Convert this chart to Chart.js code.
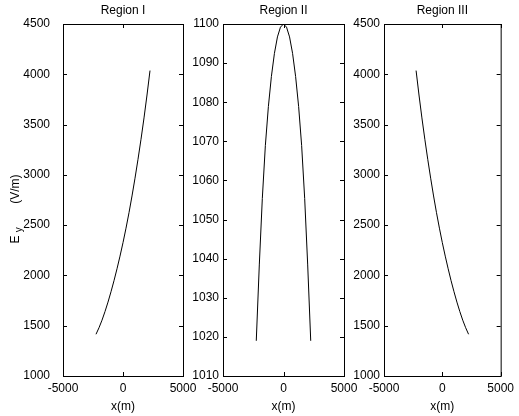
<!DOCTYPE html>
<html>
<head>
<meta charset="utf-8">
<script src="https://cdn.jsdelivr.net/npm/chart.js@4.4.0/dist/chart.umd.min.js"></script>
<style>
  html, body { margin: 0; padding: 0; background: #fff; }
  #wrap { position: relative; width: 519px; height: 416px; overflow: hidden; }
  #wrap canvas { position: absolute; left: 0; top: 0; }
  #ylabel {
    position: absolute; left: -35px; top: 202px; width: 100px; height: 14px;
    line-height: 14px; text-align: center; transform: rotate(-90deg);
    font: 12px 'Liberation Sans', Arial, sans-serif; color: #000; white-space: pre;
  }
  #ylabel sub { font-size: 10px; vertical-align: -3px; }
</style>
</head>
<body>
<div id="wrap">
  <canvas id="c1" width="519" height="416"></canvas>
  <canvas id="c2" width="519" height="416"></canvas>
  <canvas id="c3" width="519" height="416"></canvas>
  <div id="ylabel">E <sub>y</sub>       (V/m)</div>
</div>
<script>
// x positions (m) shared by the three regions
const xPositions = [-2250, -2000, -1750, -1500, -1250, -1000, -750, -500, -250, 0,
  250, 500, 750, 1000, 1250, 1500, 1750, 2000, 2250];

// Ey (V/m)
const regionIField = [1415, 1480, 1555, 1641, 1735, 1838, 1948, 2066, 2192, 2326,
  2470, 2624, 2790, 2967, 3155, 3354, 3566, 3794, 4037];
const regionIIField = [1019, 1038.4, 1055.4, 1068.9, 1078.9, 1086.6, 1092.5, 1096.7, 1099.2, 1100,
  1099.2, 1096.7, 1092.5, 1086.6, 1078.9, 1068.9, 1055.4, 1038.4, 1019];
const regionIIIField = [4037, 3794, 3566, 3354, 3155, 2967, 2790, 2624, 2470, 2326,
  2192, 2066, 1948, 1838, 1735, 1641, 1555, 1480, 1415];

const regionTitles = ['Region I', 'Region II', 'Region III'];
const xTicks = [-5000, 0, 5000];
const yRanges = [[1000, 4500, 500], [1010, 1100, 10], [1000, 4500, 500]];

const labelFont = "'Liberation Sans', Arial, sans-serif";
const tickFont = "'Liberation Sans Narrow', 'Liberation Sans', Arial, sans-serif";

// matlab style box with inward ticks
const boxTicks = {
  id: 'boxTicks',
  afterDraw(chart) {
    const { ctx, chartArea: a, scales } = chart;
    const len = 4;
    ctx.save();
    ctx.strokeStyle = '#000';
    ctx.lineWidth = 1;
    ctx.strokeRect(a.left + 0.5, a.top + 0.5, a.right - a.left, a.bottom - a.top);
    ctx.beginPath();
    scales.y.ticks.forEach(t => {
      const py = Math.round(scales.y.getPixelForValue(t.value)) + 0.5;
      ctx.moveTo(a.left, py); ctx.lineTo(a.left + len, py);
      ctx.moveTo(a.right, py); ctx.lineTo(a.right - len, py);
    });
    scales.x.ticks.forEach(t => {
      const px = Math.round(scales.x.getPixelForValue(t.value)) + 0.5;
      ctx.moveTo(px, a.bottom); ctx.lineTo(px, a.bottom - len);
      ctx.moveTo(px, a.top); ctx.lineTo(px, a.top + len);
    });
    ctx.stroke();
    ctx.restore();
  }
};

const panels = [
  { canvas: 'c1', data: regionIField, left: 63, right: 183, labelPad: 13 },
  { canvas: 'c2', data: regionIIField, left: 223, right: 344, labelPad: 4 },
  { canvas: 'c3', data: regionIIIField, left: 384, right: 506, labelPad: 4 }
];

const yAxisWidth = 50;

panels.forEach((p, i) => {
  const [yMin, yMax, yStep] = yRanges[i];
  new Chart(document.getElementById(p.canvas), {
    type: 'line',
    data: {
      datasets: [{
        data: xPositions.map((x, k) => ({ x: x, y: p.data[k] })),
        borderColor: '#000',
        borderWidth: 1,
        pointRadius: 0,
        fill: false,
        tension: 0
      }]
    },
    options: {
      responsive: false,
      animation: false,
      events: [],
      layout: { padding: { left: p.left - yAxisWidth, right: 519 - p.right, top: 0, bottom: 0 } },
      plugins: {
        legend: { display: false },
        tooltip: { enabled: false },
        title: {
          display: true, text: regionTitles[i], fullSize: false, color: '#000',
          font: { family: labelFont, size: 12, weight: 'normal' },
          padding: { top: 3, bottom: 6.6 }
        }
      },
      scales: {
        x: {
          type: 'linear', min: -5000, max: 5000,
          afterFit: s => { s.height = 40; },
          afterBuildTicks: s => { s.ticks = xTicks.map(v => ({ value: v })); },
          grid: { display: false, drawTicks: false },
          border: { display: false },
          ticks: { color: '#000', padding: 5, maxRotation: 0, font: { family: tickFont, size: 12 }, callback: v => String(v) },
          title: { display: true, text: 'x(m)', color: '#000', font: { family: labelFont, size: 12 }, padding: { top: 0, bottom: 2 } }
        },
        y: {
          type: 'linear', min: yMin, max: yMax,
          afterFit: s => { s.width = yAxisWidth; },
          grid: { display: false, drawTicks: false },
          border: { display: false },
          ticks: { stepSize: yStep, color: '#000', padding: p.labelPad, font: { family: tickFont, size: 12 }, callback: v => String(v) }
        }
      }
    },
    plugins: [boxTicks]
  });
});
</script>
</body>
</html>
